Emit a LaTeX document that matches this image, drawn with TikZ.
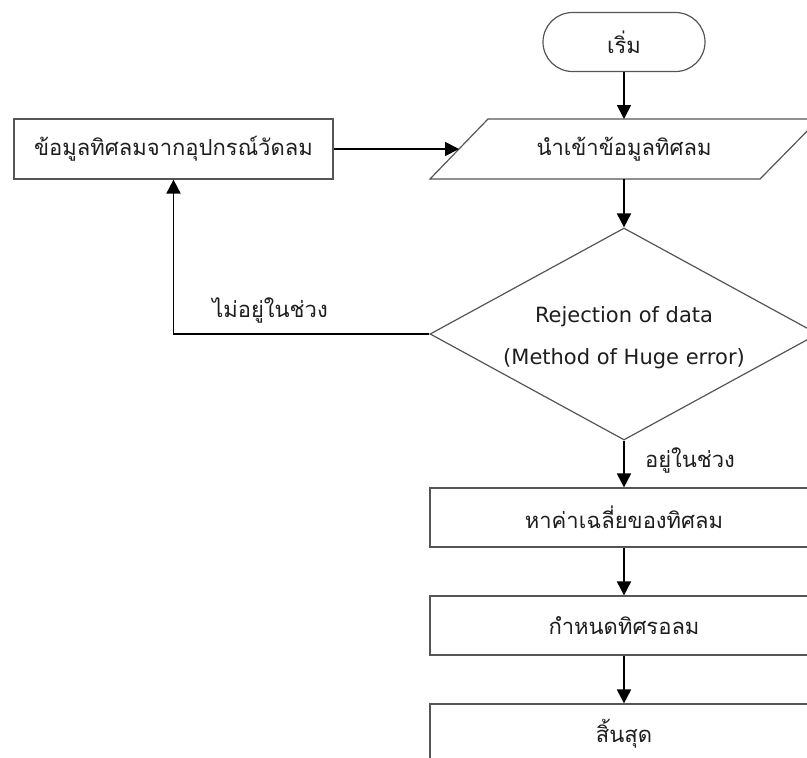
\documentclass[tikz,border=0pt]{standalone}
\usepackage{fontspec}
\newfontfamily\thaifont[Script=Thai]{Loma}
\newfontfamily\latfont{DejaVu Sans}
\usetikzlibrary{shapes.geometric,arrows.meta}
\definecolor{edge}{HTML}{555555}
\definecolor{ink}{HTML}{1E1E1E}
\begin{document}
\begin{tikzpicture}[x=1pt,y=-1pt,
  box/.style={draw=edge,line width=1.2pt,fill=white,inner sep=0pt,
    font=\thaifont\fontsize{22}{26}\selectfont,text=ink},
  flow/.style={draw=black,line width=1.8pt,-{Triangle[length=14pt,width=14pt]}},
  lbl/.style={font=\thaifont\fontsize{22}{26}\selectfont,text=ink,inner sep=0pt}]
\useasboundingbox (0,0) rectangle (807,758);
\clip (0,0) rectangle (807,758);
% start
\node[box,rounded corners=29.5pt,minimum width=162pt,minimum height=59pt] (start) at (624,42) {เริ่ม};
% input parallelogram
\draw[edge,line width=1.2pt,fill=white] (430,179) -- (488,119) -- (819,119) -- (760,179) -- cycle;
\node[lbl] (input) at (624,149) {นำเข้าข้อมูลทิศลม};
\coordinate (inT) at (624,119);
\coordinate (inB) at (624,179);
\coordinate (inL) at (459,149);
% source box
\node[box,minimum width=319pt,minimum height=60pt] (src) at (173.5,149) {ข้อมูลทิศลมจากอุปกรณ์วัดลม};
% decision
\node[box,diamond,aspect=1.83,minimum width=388pt,minimum height=212pt,inner sep=0pt] (dec) at (624,334) {};
\node[font=\latfont\fontsize{21}{42}\selectfont,text=ink,align=center,inner sep=0pt] (dectext) at (624,338)
  {Rejection of data\\(Method of Huge error)};
% process boxes
\node[box,minimum width=388pt,minimum height=59pt] (avg) at (624,517.5) {หาค่าเฉลี่ยของทิศลม};
\node[box,minimum width=388pt,minimum height=59pt] (setdir) at (624,625.5) {กำหนดทิศรอลม};
\node[box,minimum width=388pt,minimum height=59pt] (stop) at (624,733.5) {สิ้นสุด};
% connectors
\draw[flow] (start.south) -- (inT);
\draw[flow] (src.east) -- (inL);
\draw[flow] (inB) -- (dec.north);
\draw[flow] (dec.south) -- (avg.north);
\draw[flow] (avg.south) -- (setdir.north);
\draw[flow] (setdir.south) -- (stop.north);
\draw[flow] (dec.west) -| (src.south);
% labels
\node[lbl] (no) at (270,310) {ไม่อยู่ในช่วง};
\node[lbl] (yes) at (690,460) {อยู่ในช่วง};
\end{tikzpicture}
\end{document}
